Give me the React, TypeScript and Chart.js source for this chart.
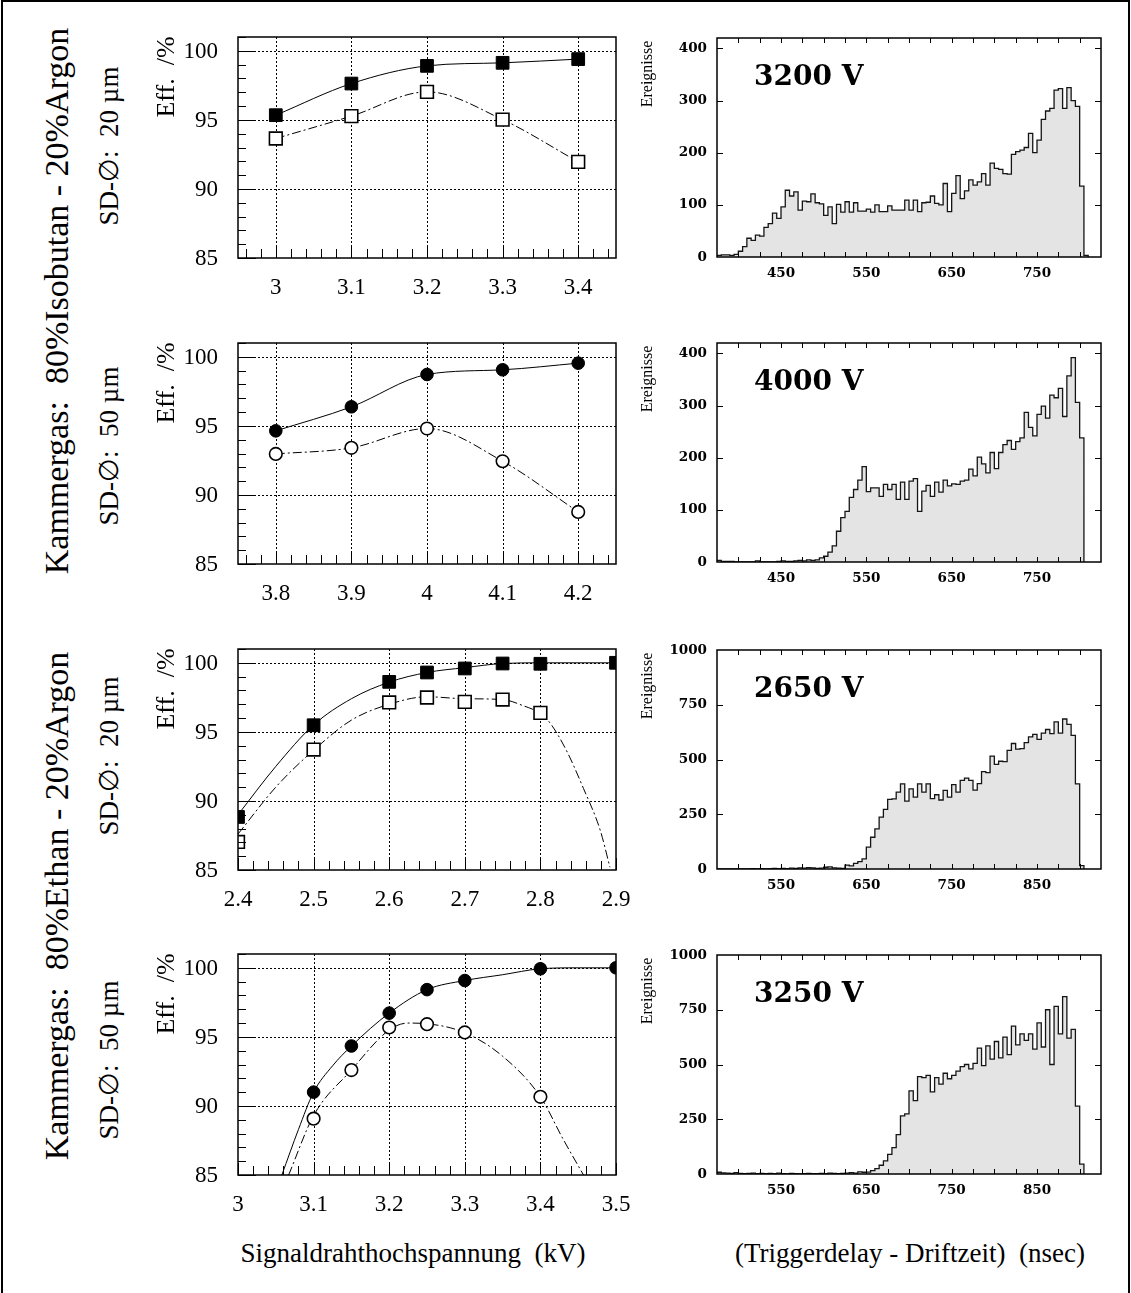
import React, { useEffect, useRef } from "react";
import { Chart, registerables } from "chart.js";

Chart.register(...registerables);

const SERIF = '"Liberation Serif", "Times New Roman", serif';
const BOLD_SERIF = '"DejaVu Serif", "Liberation Serif", serif';

// ---------- Efficiency (Eff. in %) versus signal wire voltage (kV) ----------
const effTicksY = [85, 90, 95, 100];
const effGridY = [90, 95, 100];

// 80% Isobutan - 20% Argon, SD 20 µm
const isoThinVoltage = [3.0, 3.1, 3.2, 3.3, 3.4];
const isoThinEffFilled = [95.34, 97.63, 98.91, 99.13, 99.4];
const isoThinEffOpen = [93.65, 95.27, 97.03, 95.02, 91.96];
const isoThinTicksX = [3, 3.1, 3.2, 3.3, 3.4];

// 80% Isobutan - 20% Argon, SD 50 µm
const isoThickVoltage = [3.8, 3.9, 4.0, 4.1, 4.2];
const isoThickEffFilled = [94.64, 96.38, 98.72, 99.06, 99.54];
const isoThickEffOpen = [92.97, 93.41, 94.81, 92.44, 88.77];
const isoThickTicksX = [3.8, 3.9, 4, 4.1, 4.2];

// 80% Ethan - 20% Argon, SD 20 µm
const ethThinVoltage = [2.4, 2.5, 2.6, 2.65, 2.7, 2.75, 2.8, 2.9];
const ethThinEffFilled = [88.84, 95.48, 98.62, 99.3, 99.59, 99.95, 99.93, 100];
const ethThinVoltageOpen = [2.4, 2.5, 2.6, 2.65, 2.7, 2.75, 2.8];
const ethThinEffOpen = [87.03, 93.72, 97.13, 97.49, 97.17, 97.34, 96.38];
const ethThinFitX = [2.4, 2.45, 2.5, 2.55, 2.6, 2.65, 2.7, 2.75, 2.8, 2.9];
const ethThinFitY = [89.0, 92.5, 95.5, 97.4, 98.6, 99.3, 99.65, 99.95, 100, 100];
const ethThinFitOpenX = [2.4, 2.45, 2.5, 2.55, 2.6, 2.65, 2.7, 2.75, 2.777, 2.8, 2.812, 2.834, 2.857, 2.879, 2.892];
const ethThinFitOpenY = [87.6, 91.0, 93.67, 95.85, 97.0, 97.54, 97.4, 97.34, 96.9, 96.33, 95.7, 93.7, 90.9, 87.9, 85.2];
const ethThinTicksX = [2.4, 2.5, 2.6, 2.7, 2.8, 2.9];
const ethThinGridX = [2.5, 2.6, 2.7, 2.8];

// 80% Ethan - 20% Argon, SD 50 µm
const ethThickVoltage = [3.1, 3.15, 3.2, 3.25, 3.3, 3.4, 3.5];
const ethThickEffFilled = [91.0, 94.34, 96.72, 98.42, 99.08, 99.93, 100];
const ethThickVoltageOpen = [3.1, 3.15, 3.2, 3.25, 3.3, 3.4];
const ethThickEffOpen = [89.08, 92.6, 95.68, 95.92, 95.32, 90.66];
const ethThickFitX = [3.058, 3.08, 3.1, 3.125, 3.15, 3.2, 3.25, 3.3, 3.35, 3.4, 3.45, 3.5];
const ethThickFitY = [85, 88.3, 91.0, 92.9, 94.34, 96.72, 98.42, 99.08, 99.5, 99.93, 100, 100];
const ethThickFitOpenX = [3.067, 3.1, 3.15, 3.2, 3.225, 3.25, 3.3, 3.35, 3.4, 3.43, 3.457];
const ethThickFitOpenY = [85, 89.3, 92.6, 95.5, 96.0, 95.95, 95.3, 93.6, 90.66, 87.6, 85];
const ethThickTicksX = [3, 3.1, 3.2, 3.3, 3.4, 3.5];
const ethThickGridX = [3.1, 3.2, 3.3, 3.4];

// ---------- Drift time spectra: events per 5 ns bin ----------
const BIN_WIDTH = 5;

const spectrum3200Start = 375;
const spectrum3200Counts = [
  3, 4, 4, 3, 5,
  11, 20, 36, 32, 42, 40, 57, 64, 84, 74,
  96, 128, 117, 125, 90, 107, 106, 121, 104, 102,
  80, 96, 64, 101, 86, 106, 86, 104, 88, 88,
  92, 86, 100, 87, 87, 98, 90, 90, 90, 109,
  90, 109, 87, 104, 105, 117, 103, 100, 141, 87,
  122, 156, 112, 127, 148, 138, 144, 160, 138, 180,
  170, 168, 160, 159, 197, 202, 205, 210, 237, 200,
  224, 264, 280, 285, 320, 323, 285, 325, 300, 289,
  136, 3,
];

const spectrum4000Start = 375;
const spectrum4000Counts = [
  3, 1, 1, 1, 0, 0, 0, 0, 0, 2, 0, 0, 0, 0, 1, 2, 1, 1, 2, 3,
  2, 4, 3, 4, 8, 11, 19, 31, 59, 85, 97, 124, 139, 157, 183,
  135, 142, 142, 126, 149, 139, 149, 120, 153, 120,
  155, 160, 97, 136, 147, 126, 153, 134, 157, 146,
  150, 149, 155, 157, 178, 165, 201, 188, 171, 210,
  179, 210, 225, 233, 216, 231, 238, 287, 258, 242,
  283, 299, 276, 320, 315, 333, 279, 357, 392, 306,
  238,
];

const spectrum2650Start = 475;
const spectrum2650Counts = [
  1, 0, 1, 0, 1, 1, 0, 1, 2, 1, 2, 1, 2, 3, 2, 3, 2, 4, 3, 5,
  4, 6, 5, 3, 4, 8, 10, 5, 4, 3, 18, 14, 26, 34, 46,
  100, 145, 183, 237, 272, 318, 320, 351, 389, 310,
  366, 328, 389, 351, 389, 321, 339, 315, 359, 328,
  385, 351, 405, 415, 405, 360, 390, 445, 440,
  515, 478, 492, 490, 542, 573, 547, 550, 577, 603,
  615, 592, 620, 637, 618, 672, 620, 685, 660, 610,
  389, 15,
];

const spectrum3250Start = 475;
const spectrum3250Counts = [
  8, 5, 4, 3, 6, 3, 2, 3, 4, 2, 3, 2, 3, 2, 4, 2, 1, 3, 2, 1,
  2, 3, 2, 2, 3, 2, 4, 3, 2, 3, 4, 6, 4, 10, 8, 9,
  15, 25, 40, 60, 90, 120, 180, 265, 275, 380,
  335, 445, 440, 450, 375, 440, 410, 460, 435, 450,
  470, 490, 500, 480, 505, 575, 495, 585, 525, 605,
  530, 625, 545, 675, 590, 640, 610, 640, 570, 690,
  580, 750, 500, 765, 640, 810, 620, 660, 310, 45,
];

const histTicksYLow = [0, 100, 200, 300, 400];
const histTicksYHigh = [0, 250, 500, 750, 1000];
const histLabelsXEarly = [450, 550, 650, 750];
const histLabelsXLate = [550, 650, 750, 850];

// ---------- page layout (px) ----------
const EFF_LEFT = 238;
const EFF_W = 378;
const EFF_H = 221;
const EFF_ROW_TOPS = [37, 343, 649, 954];
const HIST_LEFT = 717;
const HIST_W = 384;
const HIST_H = 219;
const HIST_ROW_TOPS = [38, 343, 650, 955];

type Marker = { xs: number[]; ys: number[]; shape: "rect" | "circle"; filled: boolean };
type Curve = { xs: number[]; ys: number[]; dashed: boolean };
type EffSpec = {
  key: string;
  top: number;
  xMin: number;
  xMax: number;
  ticksX: number[];
  gridX: number[];
  markers: Marker[];
  curves: Curve[];
};
type HistSpec = {
  key: string;
  top: number;
  start: number;
  counts: number[];
  xMin: number;
  xMax: number;
  yMax: number;
  ticksY: number[];
  labelsX: number[];
  voltage: string;
};

const effPanels: EffSpec[] = [
  {
    key: "iso-20",
    top: EFF_ROW_TOPS[0],
    xMin: 2.95,
    xMax: 3.45,
    ticksX: isoThinTicksX,
    gridX: isoThinTicksX,
    markers: [
      { xs: isoThinVoltage, ys: isoThinEffFilled, shape: "rect", filled: true },
      { xs: isoThinVoltage, ys: isoThinEffOpen, shape: "rect", filled: false },
    ],
    curves: [
      { xs: isoThinVoltage, ys: isoThinEffFilled, dashed: false },
      { xs: isoThinVoltage, ys: isoThinEffOpen, dashed: true },
    ],
  },
  {
    key: "iso-50",
    top: EFF_ROW_TOPS[1],
    xMin: 3.75,
    xMax: 4.25,
    ticksX: isoThickTicksX,
    gridX: isoThickTicksX,
    markers: [
      { xs: isoThickVoltage, ys: isoThickEffFilled, shape: "circle", filled: true },
      { xs: isoThickVoltage, ys: isoThickEffOpen, shape: "circle", filled: false },
    ],
    curves: [
      { xs: isoThickVoltage, ys: isoThickEffFilled, dashed: false },
      { xs: isoThickVoltage, ys: isoThickEffOpen, dashed: true },
    ],
  },
  {
    key: "eth-20",
    top: EFF_ROW_TOPS[2],
    xMin: 2.4,
    xMax: 2.9,
    ticksX: ethThinTicksX,
    gridX: ethThinGridX,
    markers: [
      { xs: ethThinVoltage, ys: ethThinEffFilled, shape: "rect", filled: true },
      { xs: ethThinVoltageOpen, ys: ethThinEffOpen, shape: "rect", filled: false },
    ],
    curves: [
      { xs: ethThinFitX, ys: ethThinFitY, dashed: false },
      { xs: ethThinFitOpenX, ys: ethThinFitOpenY, dashed: true },
    ],
  },
  {
    key: "eth-50",
    top: EFF_ROW_TOPS[3],
    xMin: 3.0,
    xMax: 3.5,
    ticksX: ethThickTicksX,
    gridX: ethThickGridX,
    markers: [
      { xs: ethThickVoltage, ys: ethThickEffFilled, shape: "circle", filled: true },
      { xs: ethThickVoltageOpen, ys: ethThickEffOpen, shape: "circle", filled: false },
    ],
    curves: [
      { xs: ethThickFitX, ys: ethThickFitY, dashed: false },
      { xs: ethThickFitOpenX, ys: ethThickFitOpenY, dashed: true },
    ],
  },
];

const histPanels: HistSpec[] = [
  {
    key: "h3200",
    top: HIST_ROW_TOPS[0],
    start: spectrum3200Start,
    counts: spectrum3200Counts,
    xMin: 375,
    xMax: 825,
    yMax: 420,
    ticksY: histTicksYLow,
    labelsX: histLabelsXEarly,
    voltage: "3200 V",
  },
  {
    key: "h4000",
    top: HIST_ROW_TOPS[1],
    start: spectrum4000Start,
    counts: spectrum4000Counts,
    xMin: 375,
    xMax: 825,
    yMax: 420,
    ticksY: histTicksYLow,
    labelsX: histLabelsXEarly,
    voltage: "4000 V",
  },
  {
    key: "h2650",
    top: HIST_ROW_TOPS[2],
    start: spectrum2650Start,
    counts: spectrum2650Counts,
    xMin: 475,
    xMax: 925,
    yMax: 1000,
    ticksY: histTicksYHigh,
    labelsX: histLabelsXLate,
    voltage: "2650 V",
  },
  {
    key: "h3250",
    top: HIST_ROW_TOPS[3],
    start: spectrum3250Start,
    counts: spectrum3250Counts,
    xMin: 475,
    xMax: 925,
    yMax: 1000,
    ticksY: histTicksYHigh,
    labelsX: histLabelsXLate,
    voltage: "3250 V",
  },
];

// ---------- efficiency panel ----------
const EFF_AXIS_Y = 88;
const EFF_AXIS_X = 50;
const EFF_PAD_TOP = 14;
const EFF_PAD_RIGHT = 24;

function effDecor(spec: EffSpec) {
  return {
    id: "effDecor",
    beforeDatasetsDraw(chart: any) {
      const { ctx, chartArea: a } = chart;
      const xs = chart.scales.x;
      const ys = chart.scales.y;
      ctx.save();
      ctx.strokeStyle = "#000";
      ctx.lineWidth = 1;
      ctx.setLineDash([2, 2]);
      ctx.beginPath();
      spec.gridX.forEach((v) => {
        const px = Math.round(xs.getPixelForValue(v)) + 0.5;
        ctx.moveTo(px, a.top);
        ctx.lineTo(px, a.bottom);
      });
      effGridY.forEach((v) => {
        const py = Math.round(ys.getPixelForValue(v)) + 0.5;
        ctx.moveTo(a.left, py);
        ctx.lineTo(a.right, py);
      });
      ctx.stroke();
      ctx.restore();
    },
    afterDatasetsDraw(chart: any) {
      const { ctx, chartArea: a } = chart;
      const xs = chart.scales.x;
      const ys = chart.scales.y;
      ctx.save();
      ctx.strokeStyle = "#000";
      ctx.lineWidth = 1;
      ctx.beginPath();
      for (let v = 85; v <= 101; v++) {
        const py = Math.round(ys.getPixelForValue(v)) + 0.5;
        const len = v % 5 === 0 ? 18 : 8;
        ctx.moveTo(a.left, py);
        ctx.lineTo(a.left + len, py);
      }
      const first = Math.ceil(spec.xMin / 0.02 - 1e-6);
      const last = Math.floor(spec.xMax / 0.02 + 1e-6);
      for (let k = first; k <= last; k++) {
        const v = k * 0.02;
        const px = Math.round(xs.getPixelForValue(v)) + 0.5;
        const major = Math.abs(v * 10 - Math.round(v * 10)) < 1e-6;
        ctx.moveTo(px, a.bottom);
        ctx.lineTo(px, a.bottom - (major ? 12 : 9));
      }
      ctx.stroke();
      ctx.lineWidth = 1.5;
      ctx.strokeRect(a.left, a.top, a.right - a.left, a.bottom - a.top);

      ctx.fillStyle = "#000";
      ctx.font = `23px ${SERIF}`;
      ctx.textAlign = "right";
      ctx.textBaseline = "middle";
      effTicksY.forEach((v) => ctx.fillText(String(v), a.left - 20, ys.getPixelForValue(v) + 1));
      ctx.textAlign = "center";
      ctx.textBaseline = "alphabetic";
      spec.ticksX.forEach((v) => ctx.fillText(String(v), xs.getPixelForValue(v), a.bottom + 36));

      ctx.translate(a.left - 64, a.top + 40);
      ctx.rotate(-Math.PI / 2);
      ctx.font = `26px ${SERIF}`;
      ctx.fillText("Eff.  /%", 0, 0);
      ctx.restore();
    },
  };
}

function EffChart({ spec }: { spec: EffSpec }) {
  const ref = useRef<HTMLCanvasElement>(null);
  const w = EFF_AXIS_Y + EFF_W + EFF_PAD_RIGHT;
  const h = EFF_PAD_TOP + EFF_H + EFF_AXIS_X;
  useEffect(() => {
    const datasets: any[] = [];
    spec.markers.forEach((m) =>
      datasets.push({
        data: m.xs.map((x, i) => ({ x, y: m.ys[i] })),
        showLine: false,
        pointStyle: m.shape,
        pointRadius: m.shape === "rect" ? 9 : 6.3,
        pointBackgroundColor: m.filled ? "#000" : "#fff",
        pointBorderColor: "#000",
        pointBorderWidth: m.filled ? 1 : 1.6,
        clip: 0,
        order: 0,
      })
    );
    spec.curves.forEach((c) =>
      datasets.push({
        data: c.xs.map((x, i) => ({ x, y: c.ys[i] })),
        borderColor: "#000",
        borderWidth: 1,
        borderDash: c.dashed ? [9, 3, 2, 3] : [],
        pointRadius: 0,
        cubicInterpolationMode: "monotone",
        fill: false,
        clip: 0,
        order: 1,
      })
    );
    const chart = new Chart(ref.current as HTMLCanvasElement, {
      type: "line",
      data: { datasets },
      options: {
        animation: false,
        responsive: false,
        devicePixelRatio: 1,
        events: [],
        layout: { padding: { left: 0, top: EFF_PAD_TOP, right: EFF_PAD_RIGHT, bottom: 0 } },
        plugins: { legend: { display: false }, tooltip: { enabled: false } },
        scales: {
          x: {
            type: "linear",
            position: "bottom",
            min: spec.xMin,
            max: spec.xMax,
            ticks: { display: false },
            grid: { display: false, drawTicks: false },
            border: { display: false },
            afterFit: (s: any) => {
              s.height = EFF_AXIS_X;
            },
          },
          y: {
            type: "linear",
            position: "left",
            min: 85,
            max: 101,
            ticks: { display: false },
            grid: { display: false, drawTicks: false },
            border: { display: false },
            afterFit: (s: any) => {
              s.width = EFF_AXIS_Y;
            },
          },
        },
      } as any,
      plugins: [effDecor(spec)],
    });
    return () => chart.destroy();
  }, [spec]);
  return (
    <canvas
      ref={ref}
      width={w}
      height={h}
      style={{ position: "absolute", left: EFF_LEFT - EFF_AXIS_Y, top: spec.top - EFF_PAD_TOP, width: w, height: h }}
    />
  );
}

// ---------- drift time histogram panel ----------
const HIST_AXIS_Y = 80;
const HIST_AXIS_X = 36;
const HIST_PAD_TOP = 14;
const HIST_PAD_RIGHT = 16;

function histDecor(spec: HistSpec) {
  return {
    id: "histDecor",
    afterDatasetsDraw(chart: any) {
      const { ctx, chartArea: a } = chart;
      const xs = chart.scales.x;
      const ys = chart.scales.y;
      ctx.save();
      ctx.strokeStyle = "#000";
      ctx.lineWidth = 1;
      ctx.beginPath();
      for (let v = spec.xMin + 25; v < spec.xMax; v += 25) {
        const px = Math.round(xs.getPixelForValue(v)) + 0.5;
        ctx.moveTo(px, a.top);
        ctx.lineTo(px, a.top + 5);
        ctx.moveTo(px, a.bottom);
        ctx.lineTo(px, a.bottom - 5);
      }
      spec.ticksY.forEach((v) => {
        if (v <= 0 || v >= spec.yMax) return;
        const py = Math.round(ys.getPixelForValue(v)) + 0.5;
        ctx.moveTo(a.left, py);
        ctx.lineTo(a.left + 6, py);
        ctx.moveTo(a.right, py);
        ctx.lineTo(a.right - 6, py);
      });
      ctx.stroke();
      ctx.lineWidth = 1.5;
      ctx.strokeRect(a.left, a.top, a.right - a.left, a.bottom - a.top);

      ctx.fillStyle = "#000";
      ctx.font = `bold 13.5px ${BOLD_SERIF}`;
      ctx.textAlign = "right";
      ctx.textBaseline = "middle";
      spec.ticksY.forEach((v) => ctx.fillText(String(v), a.left - 10, ys.getPixelForValue(v)));
      ctx.textAlign = "center";
      ctx.textBaseline = "alphabetic";
      spec.labelsX.forEach((v) => ctx.fillText(String(v), xs.getPixelForValue(v), a.bottom + 20));

      ctx.textAlign = "left";
      ctx.font = `bold 28px ${BOLD_SERIF}`;
      ctx.fillText(spec.voltage, a.left + 37, a.top + 47);

      ctx.translate(a.left - 65, a.top + 36);
      ctx.rotate(-Math.PI / 2);
      ctx.textAlign = "center";
      ctx.font = `16px ${SERIF}`;
      ctx.fillText("Ereignisse", 0, 0);
      ctx.restore();
    },
  };
}

function HistChart({ spec }: { spec: HistSpec }) {
  const ref = useRef<HTMLCanvasElement>(null);
  const w = HIST_AXIS_Y + HIST_W + HIST_PAD_RIGHT;
  const h = HIST_PAD_TOP + HIST_H + HIST_AXIS_X;
  useEffect(() => {
    const points = spec.counts.map((c, i) => ({ x: spec.start + i * BIN_WIDTH, y: c }));
    points.push({ x: spec.start + spec.counts.length * BIN_WIDTH, y: 0 });
    const chart = new Chart(ref.current as HTMLCanvasElement, {
      type: "line",
      data: {
        datasets: [
          {
            data: points,
            stepped: true,
            borderColor: "#151515",
            borderWidth: 1.3,
            backgroundColor: "#e4e4e4",
            fill: "origin",
            pointRadius: 0,
            clip: 0,
          },
        ],
      },
      options: {
        animation: false,
        responsive: false,
        devicePixelRatio: 1,
        events: [],
        layout: { padding: { left: 0, top: HIST_PAD_TOP, right: HIST_PAD_RIGHT, bottom: 0 } },
        plugins: { legend: { display: false }, tooltip: { enabled: false } },
        scales: {
          x: {
            type: "linear",
            position: "bottom",
            min: spec.xMin,
            max: spec.xMax,
            ticks: { display: false },
            grid: { display: false, drawTicks: false },
            border: { display: false },
            afterFit: (s: any) => {
              s.height = HIST_AXIS_X;
            },
          },
          y: {
            type: "linear",
            position: "left",
            min: 0,
            max: spec.yMax,
            ticks: { display: false },
            grid: { display: false, drawTicks: false },
            border: { display: false },
            afterFit: (s: any) => {
              s.width = HIST_AXIS_Y;
            },
          },
        },
      } as any,
      plugins: [histDecor(spec)],
    });
    return () => chart.destroy();
  }, [spec]);
  return (
    <canvas
      ref={ref}
      width={w}
      height={h}
      style={{ position: "absolute", left: HIST_LEFT - HIST_AXIS_Y, top: spec.top - HIST_PAD_TOP, width: w, height: h }}
    />
  );
}

// ---------- free text ----------
function Rotated({ text, cx, cy, size }: { text: string; cx: number; cy: number; size: number }) {
  return (
    <div
      style={{
        position: "absolute",
        left: cx,
        top: cy,
        transform: "translate(-50%, -50%) rotate(-90deg)",
        fontSize: size,
        lineHeight: 1,
        whiteSpace: "pre",
        color: "#000",
      }}
    >
      {text}
    </div>
  );
}

function Centered({ text, cx, cy, size }: { text: string; cx: number; cy: number; size: number }) {
  return (
    <div
      style={{
        position: "absolute",
        left: cx,
        top: cy,
        transform: "translate(-50%, -50%)",
        fontSize: size,
        lineHeight: 1,
        whiteSpace: "pre",
        color: "#000",
      }}
    >
      {text}
    </div>
  );
}

export default function App() {
  return (
    <div
      style={{
        position: "absolute",
        left: 0,
        top: 0,
        width: 1131,
        height: 1293,
        overflow: "hidden",
        background: "#fff",
        fontFamily: SERIF,
      }}
    >
      <div
        style={{
          position: "absolute",
          left: 1,
          top: 0,
          width: 1129,
          height: 1330,
          border: "2px solid #000",
          boxSizing: "border-box",
        }}
      />
      {effPanels.map((p) => (
        <EffChart key={p.key} spec={p} />
      ))}
      {histPanels.map((p) => (
        <HistChart key={p.key} spec={p} />
      ))}
      <Rotated text="Kammergas:  80%Isobutan - 20%Argon" cx={57} cy={301} size={34} />
      <Rotated text="Kammergas:  80%Ethan - 20%Argon" cx={57} cy={906} size={34} />
      <Rotated text="SD-∅:  20 µm" cx={109} cy={146} size={27} />
      <Rotated text="SD-∅:  50 µm" cx={109} cy={446} size={27} />
      <Rotated text="SD-∅:  20 µm" cx={109} cy={756} size={27} />
      <Rotated text="SD-∅:  50 µm" cx={109} cy={1060} size={27} />
      <Centered text="Signaldrahthochspannung  (kV)" cx={413} cy={1253} size={27} />
      <Centered text="(Triggerdelay - Driftzeit)  (nsec)" cx={910} cy={1253} size={27} />
    </div>
  );
}
